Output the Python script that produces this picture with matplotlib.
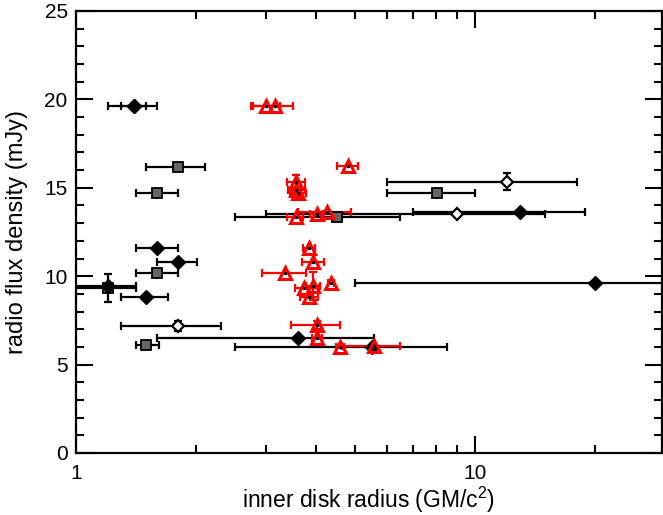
import numpy as np
import matplotlib
matplotlib.use('Agg')
import matplotlib.pyplot as plt
from matplotlib.ticker import FixedLocator, NullFormatter, MultipleLocator

plt.rcParams['font.family'] = ['Liberation Sans', 'DejaVu Sans']
plt.rcParams['mathtext.fontset'] = 'custom'
plt.rcParams['mathtext.rm'] = 'Liberation Sans'

# black filled symbols: x, x low, x high, y, y error
fill_x  = [1.40, 1.40, 1.60, 1.80, 1.20, 1.50, 3.59, 5.51, 12.97, 20.0]
fill_lo = [1.20, 1.30, 1.41, 1.60, 0.90, 1.30, 1.60, 2.50, 6.99, 5.0]
fill_hi = [1.60, 1.50, 1.80, 2.01, 1.41, 1.70, 5.59, 8.50, 18.9, 40.0]
fill_y  = [19.6, 19.6, 11.6, 10.8, 9.45, 8.8, 6.5, 6.0, 13.65, 9.6]
fill_ye = [0, 0, 0, 0, 0, 0, 0, 0, 0, 0]

# black squares
sq_x  = [1.80, 1.60, 1.60, 1.20, 1.50, 4.50, 8.02]
sq_lo = [1.50, 1.41, 1.41, 0.95, 1.41, 2.50, 6.00]
sq_hi = [2.10, 1.80, 1.80, 1.41, 1.61, 6.49, 10.0]
sq_y  = [16.2, 14.72, 10.2, 9.35, 6.1, 13.37, 14.72]
sq_ye = [0, 0, 0, 0.8, 0, 0, 0]

# black open diamonds
od_x  = [1.80, 9.0, 12.0]
od_lo = [1.30, 3.0, 6.0]
od_hi = [2.31, 14.97, 18.0]
od_y  = [7.2, 13.52, 15.35]
od_ye = [0.28, 0, 0.5]

# red triangles
tr_x  = [4.80, 3.55, 3.59, 3.55, 3.55, 4.25, 4.01, 3.84, 3.92, 3.34, 4.35,
         3.92, 3.72, 3.84, 4.01, 4.01, 4.58, 5.59, 3.00, 3.15]
tr_lo = [4.51, 3.37, 3.43, 3.40, 3.37, 3.60, 3.86, 3.71, 3.68, 2.93, 4.28,
         3.78, 3.54, 3.64, 3.45, 3.90, 4.48, 4.63, 2.75, 2.78]
tr_hi = [5.10, 3.75, 3.78, 3.75, 3.71, 4.90, 4.17, 3.97, 4.18, 3.77, 4.42,
         4.08, 4.07, 4.04, 4.58, 4.13, 4.70, 6.49, 3.50, 3.25]
tr_y  = [16.25, 15.35, 14.72, 14.85, 13.37, 13.65, 13.52, 11.61, 10.82, 10.2, 9.6,
         9.45, 9.35, 8.84, 7.24, 6.49, 5.98, 6.07, 19.62, 19.62]
tr_ye = [0, 0.35, 0, 0, 0, 0, 0, 0, 0, 0, 0,
         0.8, 0, 0, 0.25, 0, 0, 0, 0, 0]


def draw(ax, x, lo, hi, y, ye, color, **kw):
    x = np.array(x); lo = np.array(lo); hi = np.array(hi)
    ye = np.array(ye)
    xerr = [x - lo, hi - x]
    ax.errorbar(x, y, xerr=xerr, yerr=np.where(ye > 0, ye, np.nan),
                fmt='none', ecolor=color, elinewidth=1.6, capsize=3,
                capthick=1.6, zorder=2)
    ax.plot(x, y, linestyle='none', zorder=3, **kw)


fig = plt.figure(figsize=(6.63, 5.15), dpi=100)
ax = fig.add_axes([76/663, 1 - 453/515, (662 - 76)/663, (453 - 11)/515])

draw(ax, sq_x, sq_lo, sq_hi, sq_y, sq_ye, 'black', marker='s', ms=6.5,
     mfc='0.4', mec='black', mew=1.3)
draw(ax, od_x, od_lo, od_hi, od_y, od_ye, 'black', marker='D', ms=6.5,
     mfc='white', mec='black', mew=1.6)
draw(ax, fill_x, fill_lo, fill_hi, fill_y, fill_ye, 'black', marker='D', ms=7,
     mfc='black', mec='black')
draw(ax, tr_x, tr_lo, tr_hi, tr_y, tr_ye, 'red', marker='^', ms=8,
     mfc='none', mec='red', mew=2.2)
ax.plot(tr_x, tr_y, linestyle='none', marker='o', ms=1.5, color='black', zorder=4)

ax.set_xscale('log')
ax.set_xlim(1, 29.4)
ax.set_ylim(0, 25)
ax.xaxis.set_major_locator(FixedLocator([1, 10]))
ax.xaxis.set_minor_locator(FixedLocator([2, 3, 4, 5, 6, 7, 8, 9, 20]))
ax.xaxis.set_minor_formatter(NullFormatter())
ax.set_xticklabels(['1', '10'])
ax.yaxis.set_major_locator(MultipleLocator(5))
ax.yaxis.set_minor_locator(MultipleLocator(1))

ax.tick_params(which='both', direction='in', top=True, right=True,
               width=1.5, labelsize=15)
ax.tick_params(which='major', length=12, pad=6)
ax.tick_params(which='minor', length=6)
ax.tick_params(axis='x', which='major', pad=8)
for s in ax.spines.values():
    s.set_linewidth(1.6)

ax.set_xlabel('inner disk radius (GM/c$^2$)', fontsize=16.5, va='baseline')
ax.xaxis.set_label_coords(0.5, (453 - 508) / 442)
ax.set_ylabel('radio flux density (mJy)', fontsize=17, va='center')
ax.yaxis.set_label_coords((17 - 76) / 586, 0.5)

fig.savefig('out.png', dpi=100)
